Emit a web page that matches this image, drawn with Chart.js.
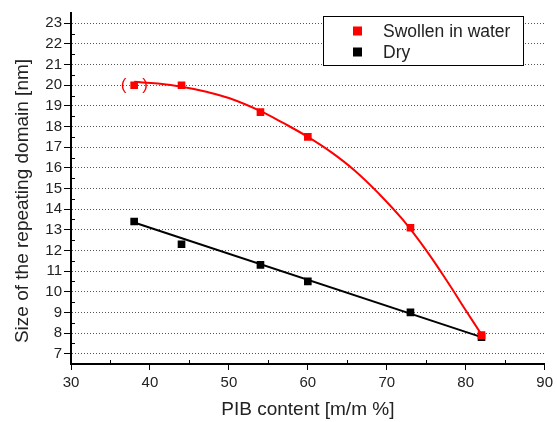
<!DOCTYPE html>
<html>
<head>
<meta charset="utf-8">
<script src="https://cdn.jsdelivr.net/npm/chart.js@4/dist/chart.umd.min.js"></script>
<style>
  html, body { margin: 0; padding: 0; background: #fff; }
  #wrap { width: 557px; height: 422px; }
</style>
</head>
<body>
<div id="wrap"><canvas id="c" width="557" height="422"></canvas></div>
<script>
// measured points
const pibContent = [38, 44, 54, 60, 73, 82];
const swollenSize = [20.0, 20.0, 18.7, 17.5, 13.1, 7.9];
const drySize = [13.4, 12.3, 11.3, 10.5, 9.0, 7.8];

// fit curves
const swollenFitX = [38, 41, 44, 47, 50, 54, 57, 60, 63, 66, 69, 72, 75, 78, 80, 82];
const swollenFitY = [20.17, 20.08, 19.93, 19.7, 19.38, 18.75, 18.15, 17.5, 16.75, 15.85, 14.75, 13.5, 12.0, 10.3, 9.1, 7.93];
const dryFitX = [38, 82];
const dryFitY = [13.35, 7.8];

const xTicks = [30, 40, 50, 60, 70, 80, 90];
const yTicks = [7, 8, 9, 10, 11, 12, 13, 14, 15, 16, 17, 18, 19, 20, 21, 22, 23];

const RED = '#ff0000';
const BLACK = '#000000';
const FONT = '"Liberation Sans", Arial, sans-serif';
const Y_TITLE = 'Size of the repeating domain [nm]';

const toXY = (xs, ys) => xs.map((x, i) => ({ x, y: ys[i] }));

// small inward ticks half way between the labelled ones
const minorTicks = {
    id: 'minorTicks',
    afterDraw(chart) {
        const { ctx, scales: { x, y } } = chart;
        ctx.save();
        ctx.strokeStyle = '#000';
        ctx.lineWidth = 1;
        ctx.beginPath();
        for (let i = 0; i < xTicks.length - 1; i++) {
            const px = Math.round(x.getPixelForValue((xTicks[i] + xTicks[i + 1]) / 2)) + 0.5;
            ctx.moveTo(px, y.bottom);
            ctx.lineTo(px, y.bottom - 4);
        }
        for (let i = 0; i < yTicks.length - 1; i++) {
            const py = Math.round(y.getPixelForValue((yTicks[i] + yTicks[i + 1]) / 2)) + 0.5;
            ctx.moveTo(x.left, py);
            ctx.lineTo(x.left + 4, py);
        }
        ctx.stroke();
        ctx.restore();
    }
};

// red brackets around the first swollen point + y title (sits a bit below axis centre)
const notes = {
    id: 'notes',
    afterDraw(chart) {
        const { ctx, scales: { x, y } } = chart;
        const px = x.getPixelForValue(pibContent[0]);
        const py = y.getPixelForValue(swollenSize[0]);
        ctx.save();
        ctx.fillStyle = RED;
        ctx.font = '17px ' + FONT;
        ctx.textAlign = 'center';
        ctx.textBaseline = 'middle';
        ctx.fillText('(', px - 10.5, py);
        ctx.fillText(')', px + 11, py);

        ctx.fillStyle = '#222';
        ctx.font = '19px ' + FONT;
        ctx.translate(23, 201);
        ctx.rotate(-Math.PI / 2);
        ctx.fillText(Y_TITLE, 0, 0);
        ctx.restore();
    }
};

// boxed legend in the upper right corner
const boxLegend = {
    id: 'boxLegend',
    afterDraw(chart) {
        const { ctx } = chart;
        const items = chart.data.datasets.filter(d => d.label);
        const left = 323, top = 16, w = 200, h = 49;
        ctx.save();
        ctx.fillStyle = '#fff';
        ctx.fillRect(left, top, w, h);
        ctx.strokeStyle = '#000';
        ctx.lineWidth = 1;
        ctx.strokeRect(left + 0.5, top + 0.5, w, h);
        ctx.font = '17.5px ' + FONT;
        ctx.textBaseline = 'middle';
        items.forEach((d, i) => {
            const cy = top + 15 + i * 21;
            ctx.fillStyle = d.backgroundColor;
            ctx.fillRect(left + 30, cy - 4.5, 9, 9);
            ctx.fillStyle = '#222';
            ctx.fillText(d.label, left + 60, cy + 1);
        });
        ctx.restore();
    }
};

new Chart(document.getElementById('c'), {
    type: 'scatter',
    data: {
        datasets: [
            {
                label: 'Swollen in water',
                data: toXY(pibContent, swollenSize),
                backgroundColor: RED,
                borderColor: RED,
                pointStyle: 'rect',
                pointRadius: 5.4,
                borderWidth: 0,
                showLine: false
            },
            {
                label: 'Dry',
                data: toXY(pibContent, drySize),
                backgroundColor: BLACK,
                borderColor: BLACK,
                pointStyle: 'rect',
                pointRadius: 5.4,
                borderWidth: 0,
                showLine: false
            },
            {
                data: toXY(swollenFitX, swollenFitY),
                borderColor: RED,
                borderWidth: 2,
                pointRadius: 0,
                showLine: true,
                tension: 0.4
            },
            {
                data: toXY(dryFitX, dryFitY),
                borderColor: BLACK,
                borderWidth: 2,
                pointRadius: 0,
                showLine: true
            }
        ]
    },
    options: {
        responsive: false,
        animation: false,
        events: [],
        layout: { padding: { top: 13, right: 10, left: 0, bottom: 0 } },
        plugins: { legend: { display: false }, tooltip: { enabled: false } },
        scales: {
            x: {
                type: 'linear',
                min: 30,
                max: 90,
                afterBuildTicks: s => { s.ticks = xTicks.map(v => ({ value: v })); },
                afterFit: s => { s.height = 58; },
                ticks: { color: '#222', font: { family: FONT, size: 15 }, padding: 4, maxRotation: 0 },
                grid: { drawOnChartArea: false, drawTicks: true, tickLength: 6, tickColor: '#000', tickWidth: 1 },
                border: { color: '#000', width: 2 },
                title: {
                    display: true,
                    text: 'PIB content [m/m %]',
                    color: '#222',
                    font: { family: FONT, size: 19 },
                    padding: { top: 0, bottom: 1 }
                }
            },
            y: {
                type: 'linear',
                min: 6.5,
                max: 23.5,
                afterBuildTicks: s => { s.ticks = yTicks.map(v => ({ value: v })); },
                afterFit: s => { s.width = 71; },
                ticks: { color: '#222', font: { family: FONT, size: 15 }, padding: 2 },
                grid: {
                    color: '#555',
                    lineWidth: 1,
                    drawTicks: true,
                    tickLength: 7,
                    tickColor: '#000',
                    tickWidth: 1,
                    tickBorderDash: []
                },
                border: { color: '#000', width: 2, dash: [1, 2] }
            }
        }
    },
    plugins: [minorTicks, notes, boxLegend]
});
</script>
</body>
</html>
